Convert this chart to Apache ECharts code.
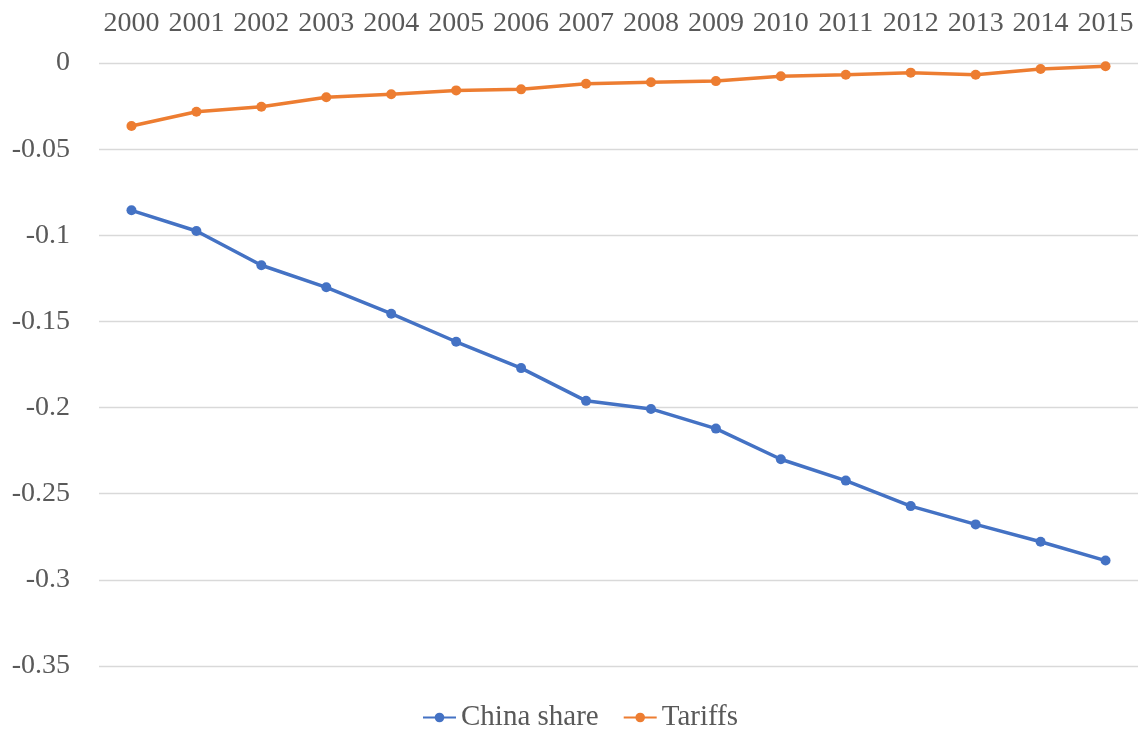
<!DOCTYPE html>
<html>
<head>
<meta charset="utf-8">
<script src="https://cdn.jsdelivr.net/npm/echarts@6/dist/echarts.min.js"></script>
<style>html,body{margin:0;padding:0;background:#fff}#c{width:1140px;height:731px}</style>
</head>
<body>
<div id="c"></div>
<script>
const years = ['2000','2001','2002','2003','2004','2005','2006','2007','2008','2009','2010','2011','2012','2013','2014','2015'];
const chinaShare = [-0.0855,-0.0975,-0.1174,-0.1302,-0.1455,-0.1618,-0.1771,-0.1961,-0.2008,-0.2122,-0.2300,-0.2424,-0.2572,-0.2678,-0.2779,-0.2888];
const tariffs = [-0.0366,-0.0283,-0.0254,-0.0199,-0.0181,-0.0159,-0.0153,-0.0120,-0.0112,-0.0105,-0.0077,-0.0068,-0.0056,-0.0068,-0.0035,-0.0019];
const yTicks = {min:-0.35, max:0, interval:0.05};

const font = '"Liberation Serif", "DejaVu Serif", serif';
const chart = echarts.init(document.getElementById('c'));
chart.setOption({
  animation:false,
  backgroundColor:'#fff',
  grid:{left:99, right:2, top:63, bottom:65},
  legend:{
    top:698, left:417,
    itemWidth:33, itemHeight:12, itemGap:24,
    textStyle:{fontFamily:font, fontSize:29, color:'#595959'},
    data:['China share','Tariffs']
  },
  xAxis:{
    type:'category', position:'top', data:years, boundaryGap:true,
    axisLine:{show:false}, axisTick:{show:false},
    axisLabel:{fontFamily:font, fontSize:28, color:'#595959', margin:25, interval:0}
  },
  yAxis:{
    type:'value', min:yTicks.min, max:yTicks.max, interval:yTicks.interval,
    axisLine:{show:false}, axisTick:{show:false},
    splitLine:{lineStyle:{color:'#d9d9d9', width:1.3}},
    axisLabel:{fontFamily:font, fontSize:28, color:'#595959', margin:29,
      formatter:v=>{ const r=Math.round(v*100)/100; return r===0?'0':String(r);} }
  },
  series:[
    {name:'China share', type:'line', data:chinaShare, symbol:'circle', symbolSize:10,
     itemStyle:{color:'#4472C4'}, lineStyle:{color:'#4472C4', width:3.5}},
    {name:'Tariffs', type:'line', data:tariffs, symbol:'circle', symbolSize:10,
     itemStyle:{color:'#ED7D31'}, lineStyle:{color:'#ED7D31', width:3.5}}
  ]
});
</script>
</body>
</html>
